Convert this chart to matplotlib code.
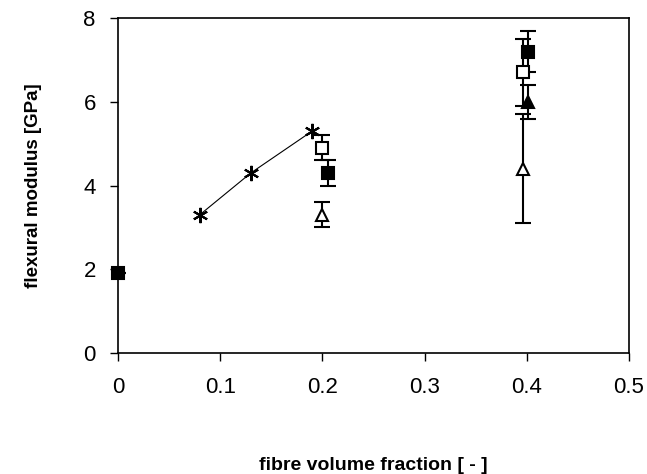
import matplotlib
matplotlib.use("Agg")
import matplotlib.pyplot as plt

plt.rcParams['font.family'] = ['Liberation Sans', 'DejaVu Sans']

# filled squares
fsq_x = [0.0, 0.205, 0.401]
fsq_y = [1.9, 4.3, 7.2]
fsq_err = [0.0, 0.3, 0.5]

# open squares
osq_x = [0.2, 0.396]
osq_y = [4.9, 6.7]
osq_err = [0.3, 0.8]

# open triangles
otr_x = [0.2, 0.396]
otr_y = [3.3, 4.4]
otr_err = [0.3, 1.3]

# filled triangle
ftr_x = [0.401]
ftr_y = [6.0]
ftr_err = [0.4]

# asterisk series with line
ast_x = [0.08, 0.13, 0.19]
ast_y = [3.3, 4.3, 5.3]

x_ticks = [0, 0.1, 0.2, 0.3, 0.4, 0.5]
x_ticklabels = ['0', '0.1', '0.2', '0.3', '0.4', '0.5']
y_ticks = [0, 2, 4, 6, 8]

fig = plt.figure(figsize=(6.47, 4.74), dpi=100)
ax = fig.add_axes([118/647, 1-353/474, (629-118)/647, (353-18)/474])

eb = dict(fmt='none', ecolor='black', elinewidth=1.5, capsize=6, capthick=1.5, zorder=2)
ax.errorbar(otr_x, otr_y, yerr=otr_err, **eb)
ax.errorbar(osq_x, osq_y, yerr=osq_err, **eb)
ax.errorbar(ftr_x, ftr_y, yerr=ftr_err, **eb)
ax.errorbar(fsq_x, fsq_y, yerr=fsq_err, **eb)

ax.plot(otr_x, otr_y, ls='none', marker='^', ms=9, mfc='white', mec='black', mew=1.5, zorder=3)
ax.plot(osq_x, osq_y, ls='none', marker='s', ms=8.5, mfc='white', mec='black', mew=1.5, zorder=3)
ax.plot(ftr_x, ftr_y, ls='none', marker='^', ms=9, mfc='black', mec='black', mew=1.5, zorder=3)
ax.plot(fsq_x, fsq_y, ls='none', marker='s', ms=8.5, mfc='black', mec='black', mew=1.5,
        zorder=3, clip_on=False)
ax.plot(ast_x, ast_y, color='black', lw=0.8, marker=(6, 2, 0), ms=11, mew=1.5, zorder=3)

ax.set_xlim(0, 0.5)
ax.set_ylim(0, 8)
ax.set_xticks(x_ticks)
ax.set_xticklabels(x_ticklabels)
ax.set_yticks(y_ticks)
ax.tick_params(direction='out', length=6, width=1, labelsize=16)
ax.tick_params(axis='x', pad=11)
ax.tick_params(axis='y', pad=10)
for s in ax.spines.values():
    s.set_linewidth(1.2)

ax.set_xlabel('fibre volume fraction [ - ]', fontsize=14, fontweight='bold', labelpad=43)
ax.set_ylabel('flexural modulus [GPa]', fontsize=13.5, fontweight='bold', labelpad=30)

fig.savefig('out.png', dpi=100)
